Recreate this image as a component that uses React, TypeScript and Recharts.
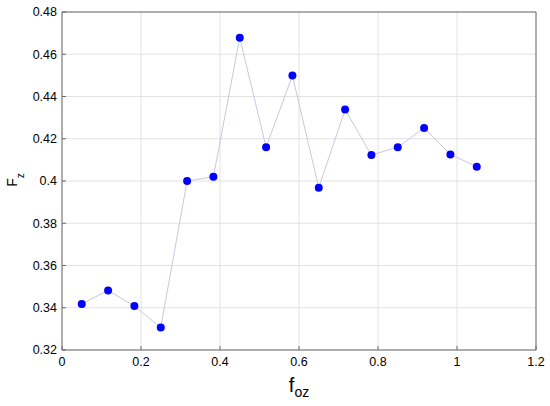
import React from 'react';
import { LineChart, Line, XAxis, YAxis, CartesianGrid } from 'recharts';

const foz = [0.05, 0.1167, 0.1833, 0.25, 0.3167, 0.3833, 0.45, 0.5167, 0.5833, 0.65, 0.7167, 0.7833, 0.85, 0.9167, 0.9833, 1.05];
const fz = [0.3418, 0.3482, 0.3408, 0.3306, 0.4, 0.402, 0.4678, 0.416, 0.4499, 0.3968, 0.4338, 0.4123, 0.416, 0.4251, 0.4126, 0.4068];
const xTicks = [0, 0.2, 0.4, 0.6, 0.8, 1, 1.2];
const yTicks = [0.32, 0.34, 0.36, 0.38, 0.4, 0.42, 0.44, 0.46, 0.48];

const data = foz.map((x, i) => ({ x, y: fz[i] }));

const FONT = '"Liberation Sans", Arial, Helvetica, sans-serif';
const FRAME = '#6a6a6a';

const XLabel = (props: any) => {
  const vb = props.viewBox || {};
  return (
    <text x={vb.x + vb.width / 2} y={vb.y + 42} textAnchor="middle" fontFamily={FONT} fontSize={20} fill="#000">
      <tspan>f</tspan>
      <tspan fontSize={14} dy={5}>oz</tspan>
    </text>
  );
};

const YLabel = (props: any) => {
  const vb = props.viewBox || {};
  const cx = 17;
  const cy = vb.y + vb.height / 2 - 1;
  return (
    <text x={cx} y={cy} transform={`rotate(-90, ${cx}, ${cy})`} textAnchor="middle" fontFamily={FONT} fontSize={14} fill="#000">
      <tspan>F</tspan>
      <tspan fontSize={10} dy={7}>z</tspan>
    </text>
  );
};

export default function App() {
  return (
    <div style={{ position: 'absolute', left: 0, top: 0, width: 550, height: 406, background: '#fff' }}>
      <LineChart width={550} height={406} data={data} margin={{ top: 11, right: 13, bottom: 0, left: 0 }}>
        <CartesianGrid stroke="#e2e2e2" strokeWidth={1} />
        <XAxis
          xAxisId={0}
          dataKey="x"
          type="number"
          domain={[0, 1.2]}
          ticks={xTicks}
          allowDataOverflow
          height={56}
          stroke={FRAME}
          tickSize={-4}
          tickMargin={11}
          tick={{ fill: '#000', fontSize: 12.5, fontFamily: FONT }}
          tickFormatter={(v: number) => String(v)}
          label={<XLabel />}
        />
        <XAxis
          xAxisId="top"
          orientation="top"
          type="number"
          domain={[0, 1.2]}
          ticks={xTicks}
          allowDataOverflow
          height={1}
          stroke={FRAME}
          tickSize={-4}
          tick={false}
        />
        <YAxis
          yAxisId={0}
          type="number"
          domain={[0.32, 0.48]}
          ticks={yTicks}
          allowDataOverflow
          width={62}
          stroke={FRAME}
          tickSize={-4}
          tickMargin={9}
          tick={{ fill: '#000', fontSize: 12.5, fontFamily: FONT }}
          tickFormatter={(v: number) => String(v)}
          label={<YLabel />}
        />
        <YAxis
          yAxisId="right"
          orientation="right"
          type="number"
          domain={[0.32, 0.48]}
          ticks={yTicks}
          allowDataOverflow
          width={1}
          stroke={FRAME}
          tickSize={-4}
          tick={false}
        />
        <Line
          xAxisId={0}
          yAxisId={0}
          type="linear"
          dataKey="y"
          stroke="#c8c8de"
          strokeWidth={1}
          dot={{ r: 4, fill: '#0000ff', stroke: '#0000ff', strokeWidth: 0 }}
          activeDot={false}
          isAnimationActive={false}
        />
      </LineChart>
    </div>
  );
}
